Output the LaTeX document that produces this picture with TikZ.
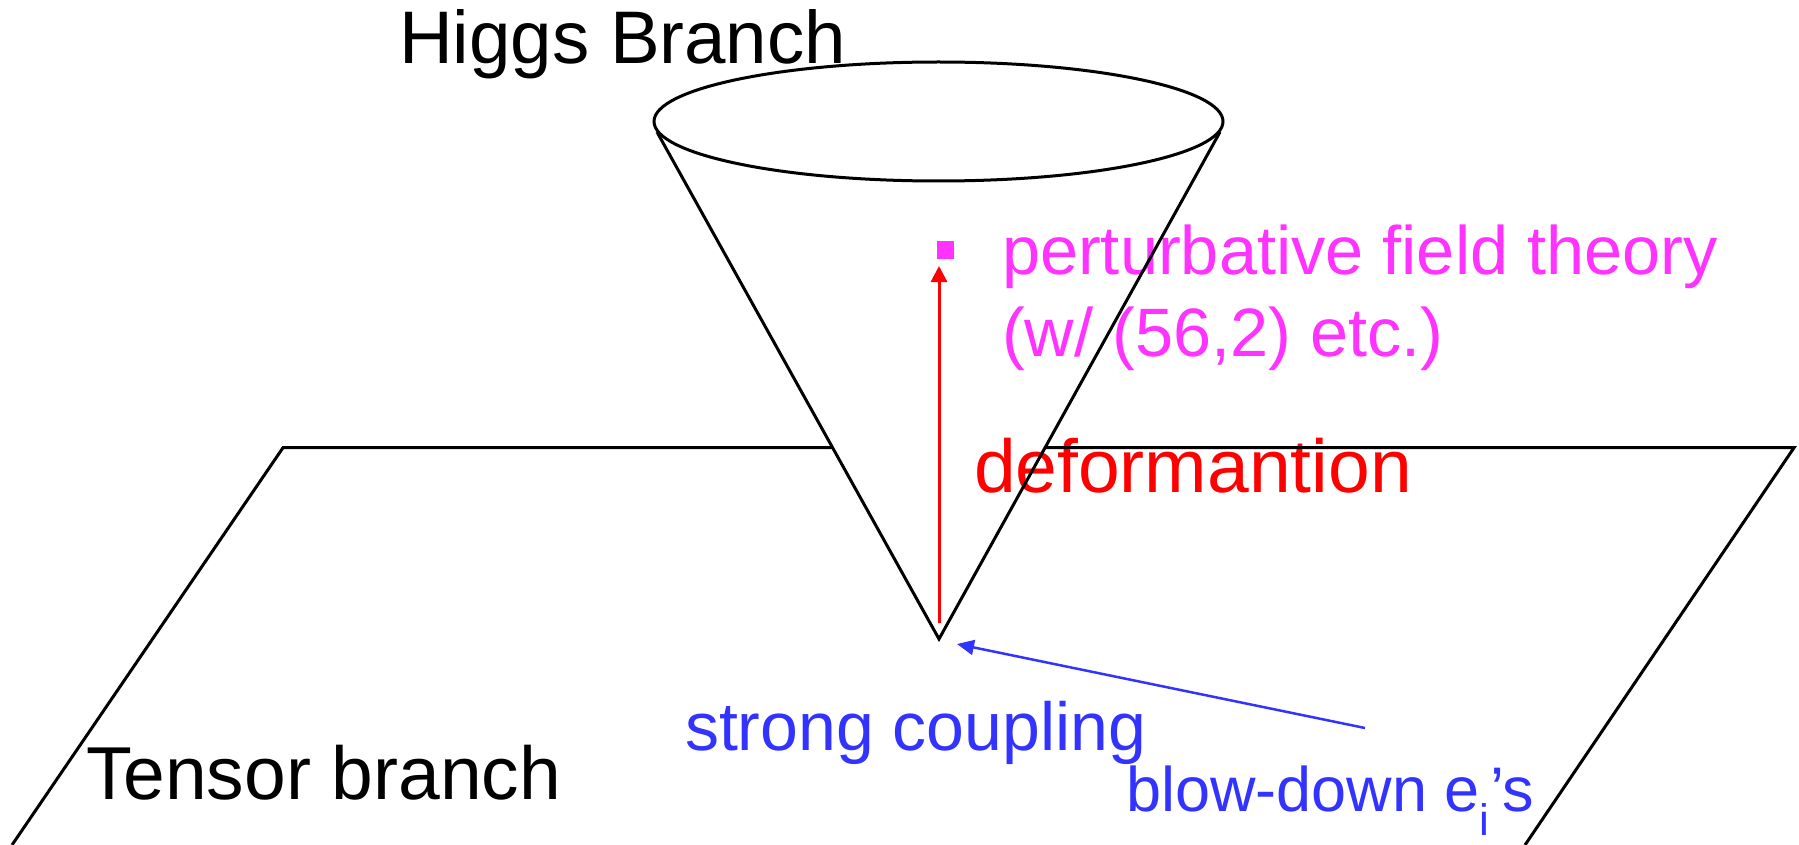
\documentclass[tikz,border=0pt]{standalone}
\usepackage{fontspec}
\setmainfont{Liberation Sans}
\usetikzlibrary{arrows.meta,calc}
\definecolor{mag}{HTML}{FF33FF}
\definecolor{blu}{HTML}{3333FF}
\definecolor{rd}{HTML}{FF0000}
\begin{document}
\begin{tikzpicture}[x=1pt,y=-1pt,
  lbl/.style={inner sep=0pt, outer sep=0pt, anchor=base west},
  edge/.style={black, line width=3pt},
  redarr/.style={rd, line width=3pt, -{Triangle[length=16pt,width=16pt]}},
  bluarr/.style={blu, line width=2.5pt, -{Triangle[length=17pt,width=15pt]}}]
\useasboundingbox (0,0) rectangle (1799,845);
% texts
\node[lbl, font=\fontsize{74.5}{88}\selectfont] (higgs) at (399,63.3) {Higgs Branch};
\node[lbl, text=mag, font=\fontsize{68.5}{82}\selectfont] (pert1) at (1002,274.3) {perturbative field theory};
\node[lbl, text=mag, font=\fontsize{68.5}{82}\selectfont] (pert2) at (1002,356.7) {(w/ (56,2) etc.)};
\node[lbl, text=rd, font=\fontsize{75}{88}\selectfont] (deform) at (974,492) {deformantion};
\node[lbl, text=blu, font=\fontsize{68}{82}\selectfont] (strong) at (685,750) {strong coupling};
\node[lbl, font=\fontsize{75}{88}\selectfont] (tensor) at (86,799) {Tensor branch};
\node[lbl, text=blu, font=\fontsize{63}{75}\selectfont] (blow) at (1126,811.7) {blow-down e\textsubscript{i}’s};
% geometry
\coordinate (ptl) at (283,447.7);
\coordinate (ptr) at (1794,447.7);
\coordinate (pbl) at (12,845);
\coordinate (pbr) at (1525,845);
\coordinate (ctr) at (938.5,121.5);
\coordinate (cl) at (657,132);
\coordinate (cr) at (1220,132);
\coordinate (apex) at (939,639);
% plane
\draw[edge] (pbl) -- (ptl) -- ($(apex)!0.3773!(cl)$);
\draw[edge] ($(apex)!0.3773!(cr)$) -- (ptr) -- (pbr);
% cone
\draw[edge] (ctr) ellipse [x radius=284.5, y radius=59.5];
\draw[edge] (cl) -- (apex) -- (cr);
% point and arrows
\node[fill=mag, draw=none, minimum size=17pt, inner sep=0pt] (dot) at (945.5,250) {};
\coordinate (redtail) at (939,623);
\coordinate (redtip) at (939,266);
\draw[redarr] (redtail) -- (redtip);
\coordinate (btail) at (1365,728);
\coordinate (btip) at (957,644);
\draw[bluarr] (btail) -- (btip);
\end{tikzpicture}
\end{document}
